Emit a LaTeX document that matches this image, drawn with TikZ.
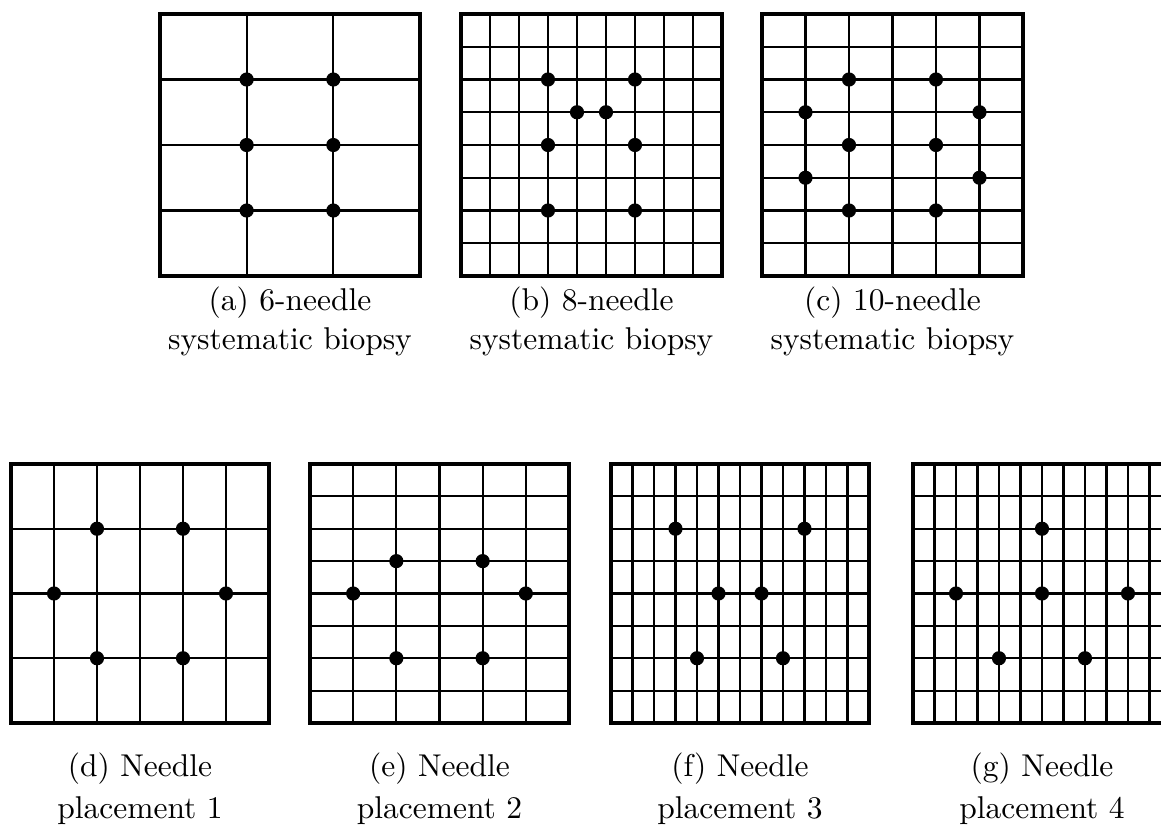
\documentclass[tikz,border=0pt]{standalone}
\begin{document}
\tikzset{
  gridline/.style={line width=0.65pt},
  frameline/.style={line width=1.0pt},
  needle/.style={fill=black},
  caption/.style={anchor=base, inner sep=0pt}
}
\newcommand\gridpanel[7]{%
  \pgfmathsetmacro\pdx{(#2-#1)/#5}%
  \pgfmathsetmacro\pdy{(#4-#3)/#6}%
  \pgfmathtruncatemacro\pnc{#5-1}%
  \pgfmathtruncatemacro\pnr{#6-1}%
  \foreach \i in {1,...,\pnc} \draw[gridline] ({#1+\i*\pdx},#3) -- ({#1+\i*\pdx},#4);
  \foreach \j in {1,...,\pnr} \draw[gridline] (#1,{#3+\j*\pdy}) -- (#2,{#3+\j*\pdy});
  \draw[frameline] (#1,#3) rectangle (#2,#4);
  \foreach \c/\r in {#7} \fill[needle] ({#1+\c*\pdx},{#3+\r*\pdy}) circle[radius=2.25pt];
}
\begin{tikzpicture}[x=0.3175pt,y=-0.3175pt]
\useasboundingbox (0,0) rectangle (1161,832);
\begin{scope}
\clip (0,0) rectangle (1161,832);
% top row
\gridpanel{160}{420}{14}{276}{3}{4}{1/1,2/1,1/2,2/2,1/3,2/3}
\gridpanel{461}{722}{14}{276}{9}{8}{3/2,6/2,4/3,5/3,3/4,6/4,3/6,6/6}
\gridpanel{762}{1023}{14}{276}{6}{8}{2/2,4/2,1/3,5/3,2/4,4/4,1/5,5/5,2/6,4/6}
% bottom row
\gridpanel{11}{269}{464}{723}{6}{4}{2/1,4/1,1/2,5/2,2/3,4/3}
\gridpanel{310}{569}{464}{723}{6}{8}{2/3,4/3,1/4,5/4,2/6,4/6}
\gridpanel{611}{869}{464}{723}{12}{8}{3/2,9/2,5/4,7/4,4/6,8/6}
\gridpanel{913}{1171}{464}{723}{12}{8}{6/2,2/4,6/4,10/4,4/6,8/6}
\end{scope}
% captions
\node[caption] (ca1) at (290,310) {(a) 6-needle};
\node[caption] (ca2) at (290,349) {systematic biopsy};
\node[caption] (cb1) at (591.5,310) {(b) 8-needle};
\node[caption] (cb2) at (591.5,349) {systematic biopsy};
\node[caption] (cc1) at (892.5,310) {(c) 10-needle};
\node[caption] (cc2) at (892.5,349) {systematic biopsy};
\node[caption] (cd1) at (140,776) {(d) Needle};
\node[caption] (cd2) at (140,818) {placement 1};
\node[caption] (ce1) at (439.5,776) {(e) Needle};
\node[caption] (ce2) at (439.5,818) {placement 2};
\node[caption] (cf1) at (740,776) {(f) Needle};
\node[caption] (cf2) at (740,818) {placement 3};
\node[caption] (cg1) at (1042,776) {(g) Needle};
\node[caption] (cg2) at (1042,818) {placement 4};
\end{tikzpicture}
\end{document}
